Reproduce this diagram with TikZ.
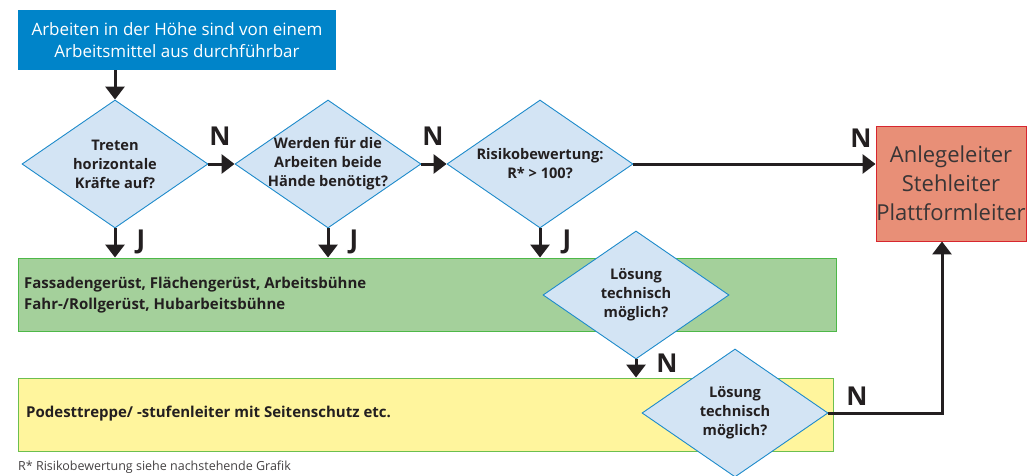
\documentclass[tikz,border=0pt]{standalone}
\usepackage{fontspec}
\setmainfont{Open Sans}
\usetikzlibrary{shapes.geometric,arrows.meta,calc}
\definecolor{topblue}{HTML}{0084C9}
\definecolor{diafill}{HTML}{D3E4F4}
\definecolor{diaborder}{HTML}{1E8BCB}
\definecolor{grfill}{HTML}{A4D09B}
\definecolor{grborder}{HTML}{4DB848}
\definecolor{yefill}{HTML}{FFF59D}
\definecolor{yeborder}{HTML}{6CBF4F}
\definecolor{rdfill}{HTML}{E88F77}
\definecolor{rdborder}{HTML}{D7262F}
\definecolor{txt}{HTML}{231F20}
\tikzset{
  dia/.style={diamond, draw=diaborder, fill=diafill, line width=0.9pt,
    minimum width=186pt, minimum height=128pt, inner sep=0pt},
  dtext/.style={align=center, text=txt, inner sep=0pt,
    font=\fontsize{14.6}{19}\selectfont\bfseries},
  arr/.style={line width=3pt, draw=txt,
    -{Triangle[width=19pt,length=13pt]}},
  lab/.style={text=txt, font=\fontsize{26}{26}\selectfont\bfseries, inner sep=0pt},
  bigbox/.style={draw, line width=0.9pt, minimum height=73pt, inner sep=0pt},
}
\begin{document}
\begin{tikzpicture}[x=1pt,y=-1pt]
\useasboundingbox (0,0) rectangle (1033,476);
% top box
\node[fill=topblue, minimum width=318pt, minimum height=60pt, inner sep=0pt,
  align=center, text=white, font=\fontsize{17}{22}\selectfont] (start) at (177,40)
  {Arbeiten in der Höhe sind von einem\\Arbeitsmittel aus durchführbar};
% diamonds row 1
\node[dia, label={[dtext]center:{Treten\\horizontale\\Kräfte auf?}}] (d1) at (115,164) {};
\node[dia, label={[dtext]center:{Werden für die\\Arbeiten beide\\Hände benötigt?}}] (d2) at (328,164) {};
\node[dia, label={[dtext]center:{Risikobewertung:\\R* > 100?}}] (d3) at (540,164) {};
% red box
\node[draw=rdborder, fill=rdfill, line width=0.9pt, minimum width=150pt, minimum height=115pt,
  inner sep=0pt, align=center, text=txt!90, font=\fontsize{22}{29}\selectfont] (ladder) at (951,183.5)
  {Anlegeleiter\\Stehleiter\\Plattformleiter};
% green box
\node[bigbox, draw=grborder, fill=grfill, minimum width=818pt] (green) at (427,294.5) {};
\node[anchor=west, align=left, text=txt, inner sep=0pt,
  font=\fontsize{15}{21}\selectfont\bfseries] (gtext) at (24,295)
  {Fassadengerüst, Flächengerüst, Arbeitsbühne\\Fahr-/Rollgerüst, Hubarbeitsbühne};
\node[dia, label={[dtext]center:{Lösung\\technisch\\möglich?}}] (d4) at (636,295) {};
% yellow box
\node[bigbox, draw=yeborder, fill=yefill, minimum width=815pt] (yellow) at (425.5,414.5) {};
\node[anchor=west, text=txt, inner sep=0pt,
  font=\fontsize{15}{21}\selectfont\bfseries] (ytext) at (26,414)
  {Podesttreppe/ -stufenleiter mit Seitenschutz etc.};
\node[dia, label={[dtext]center:{Lösung\\technisch\\möglich?}}] (d5) at (735,413) {};
% footer
\node[anchor=west, inner sep=0pt, text=txt!85, font=\fontsize{12.5}{14}\selectfont] (foot) at (18,467)
  {R* Risikobewertung siehe nachstehende Grafik};
% arrows
\draw[arr] (start.south -| d1.north) -- (d1.north);
\draw[arr] (d1.east) -- (d2.west);
\draw[arr] (d2.east) -- (d3.west);
\draw[arr] (d3.east) -- (ladder.west |- d3.east);
\draw[arr] (d1.south) -- (d1.south |- green.north);
\draw[arr] (d2.south) -- (d2.south |- green.north);
\draw[arr] (d3.south) -- (d3.south |- green.north);
\draw[arr] (d4.south) -- (d4.south |- yellow.north);
\coordinate (bend) at (942,413);
\draw[arr] (d5.east) -- (bend) -- (bend |- ladder.south);
% labels
\node[lab] (n1) at (220,136) {N};
\node[lab] (n2) at (433,136) {N};
\node[lab] (n3) at (861,138) {N};
\node[lab] (n4) at (667,363) {N};
\node[lab] (n5) at (857,396) {N};
\node[lab] (j1) at (141,242) {J};
\node[lab] (j2) at (354,242) {J};
\node[lab] (j3) at (567,242) {J};
\end{tikzpicture}
\end{document}
